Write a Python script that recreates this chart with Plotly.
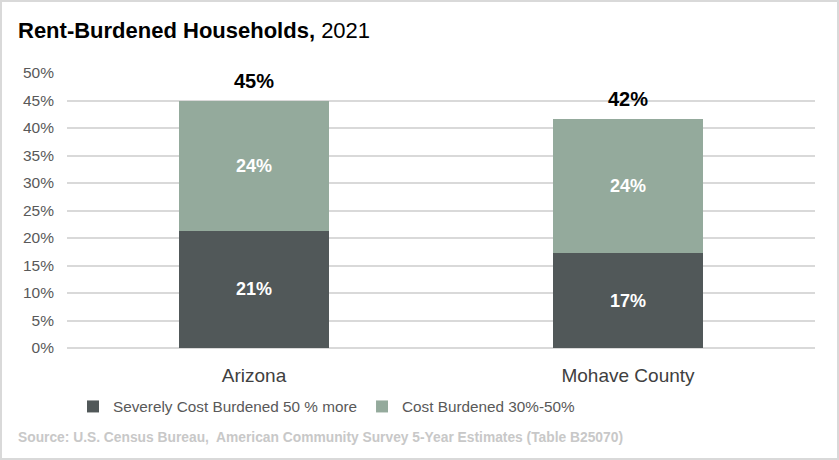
import plotly.graph_objects as go

categories = ["Arizona", "Mohave County"]
severe = [21.3, 17.2]
burdened = [23.7, 24.4]
severe_labels = ["21%", "17%"]
burdened_labels = ["24%", "24%"]
total_labels = ["45%", "42%"]
totals = [s + b for s, b in zip(severe, burdened)]
y_ticks = [0, 5, 10, 15, 20, 25, 30, 35, 40, 45, 50]
y_tick_labels = [f"{v}%" for v in y_ticks]

FONT = "Liberation Sans, Arial, sans-serif"

W, H = 839, 460
ML, MR, MT, MB = 67, 24, 73, 112
plot_w = W - ML - MR
plot_h = H - MT - MB
def px(xp):
    return (xp - ML) / plot_w
def py(yp):
    return (H - MB - yp) / plot_h

fig = go.Figure()
fig.add_trace(go.Bar(
    x=categories, y=severe, name="Severely Cost Burdened 50 % more",
    marker=dict(color="#515859", line=dict(width=0)),
    text=severe_labels, textposition="inside", insidetextanchor="middle",
    textfont=dict(family=FONT, size=18, color="white"),
    texttemplate="<b>%{text}</b>",
))
fig.add_trace(go.Bar(
    x=categories, y=burdened, name="Cost Burdened 30%-50%",
    marker=dict(color="#94aa9c", line=dict(width=0)),
    text=burdened_labels, textposition="inside", insidetextanchor="middle",
    textfont=dict(family=FONT, size=18, color="white"),
    texttemplate="<b>%{text}</b>",
))

annotations = []
for c, t, lab in zip(categories, totals, total_labels):
    annotations.append(dict(x=c, y=t, xref="x", yref="y", text=f"<b>{lab}</b>",
                            showarrow=False, yanchor="bottom", yshift=7,
                            font=dict(family=FONT, size=20, color="black")))
annotations.append(dict(text="<b>Rent-Burdened Households,</b> 2021",
                        x=px(16), y=py(30), xref="paper", yref="paper",
                        xanchor="left", yanchor="middle", showarrow=False,
                        font=dict(family=FONT, size=22, color="black")))
annotations.append(dict(text="<b>Source: U.S. Census Bureau,  American Community Survey 5-Year Estimates (Table B25070)</b>",
                        x=px(16), y=py(437), xref="paper", yref="paper",
                        xanchor="left", yanchor="middle", showarrow=False,
                        font=dict(family=FONT, size=13.8, color="#c8c8c8")))

fig.update_layout(
    width=W, height=H,
    barmode="stack", bargap=0.6,
    plot_bgcolor="white", paper_bgcolor="white",
    margin=dict(l=ML, r=MR, t=MT, b=MB),
    showlegend=True,
    legend=dict(orientation="h", x=px(73), y=py(390), xanchor="left", yanchor="top",
                font=dict(family=FONT, size=15.3, color="#595959"),
                itemwidth=30, traceorder="normal"),
    xaxis=dict(showline=False, ticks="", tickfont=dict(family=FONT, size=19, color="#404040"),
               showgrid=False, ticklabelstandoff=14),
    yaxis=dict(range=[0, 50], tickvals=y_ticks, ticktext=y_tick_labels,
               showgrid=True, gridcolor="#d9d9d9", gridwidth=1.5, zeroline=True,
               zerolinecolor="#d9d9d9", zerolinewidth=1.5,
               tickfont=dict(family=FONT, size=15.5, color="#595959"), ticks="",
               ticklabelstandoff=12),
    annotations=annotations,
    shapes=[dict(type="rect", xref="paper", yref="paper",
                 x0=px(1), x1=px(838), y0=py(459), y1=py(1),
                 line=dict(color="#d9d9d9", width=2))],
)

fig.write_html("out.html", config={"displayModeBar": False},
               post_script="document.body.style.margin='0';document.body.style.padding='0';")
